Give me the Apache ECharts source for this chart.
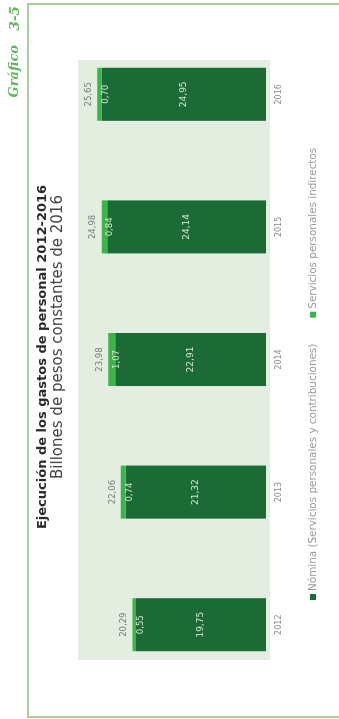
<!DOCTYPE html>
<html>
<head>
<meta charset="utf-8">
<script src="https://cdn.jsdelivr.net/npm/echarts@6/dist/echarts.min.js"></script>
<style>
  html, body { margin: 0; padding: 0; background: #ffffff; overflow: hidden; }
  /* the page is laid out landscape and turned a quarter turn */
  #chart {
    position: absolute; left: 0; top: 0;
    width: 719px; height: 339px;
    transform-origin: 0 0;
    transform: translate(0, 719px) rotate(-90deg);
  }
</style>
</head>
<body>
<div id="chart"></div>
<script>
// Billones de pesos constantes de 2016
const years = ['2012', '2013', '2014', '2015', '2016'];
const nomina = [19.75, 21.32, 22.91, 24.14, 24.95];
const indirectos = [0.55, 0.74, 1.07, 0.84, 0.70];
const totales = [20.29, 22.06, 23.98, 24.98, 25.65];

const fmt = v => v.toFixed(2).replace('.', ',');
const DARK = '#1c6b37';
const LIGHT = '#3db34c';
const LABEL_FONT = 'DejaVu Sans';

const chart = echarts.init(document.getElementById('chart'), null, { renderer: 'canvas' });

chart.setOption({
  backgroundColor: '#ffffff',
  animation: false,
  title: [
    {
      text: 'Ejecución de los gastos de personal 2012-2016',
      left: 357, top: 31, textAlign: 'center',
      textStyle: { fontFamily: 'DejaVu Sans', fontWeight: 'bold', fontSize: 13, color: '#2a2a2a' }
    },
    {
      text: 'Billones de pesos constantes de 2016',
      left: 377, top: 46, textAlign: 'center',
      textStyle: { fontFamily: 'DejaVu Sans', fontWeight: 'normal', fontSize: 15, color: '#444444' }
    }
  ],
  graphic: [
    {
      type: 'polyline', silent: true, z: 0,
      shape: { points: [[2, 339], [2, 28], [715, 28], [715, 339]] },
      style: { stroke: '#a6d29a', lineWidth: 2, fill: null }
    },
    {
      type: 'text', silent: true,
      x: 674, y: 15,
      style: {
        text: 'Gráfico', align: 'right', verticalAlign: 'middle',
        font: 'italic bold 13px "DejaVu Serif"', fill: '#5db85a'
      }
    },
    {
      type: 'text', silent: true,
      x: 713, y: 15,
      style: {
        text: '3-5', align: 'right', verticalAlign: 'middle',
        font: 'italic bold 13.5px "DejaVu Serif"', fill: '#5db85a'
      }
    },
    {
      type: 'rect', silent: true, z: -1,
      shape: { x: 59, y: 78, width: 600, height: 192 },
      style: { fill: '#e4eee0' }
    }
  ],
  legend: {
    left: 119, top: 308, padding: 0,
    itemWidth: 6, itemHeight: 6, itemGap: 26,
    icon: 'rect',
    textStyle: { fontFamily: LABEL_FONT, fontSize: 10.4, color: '#9a9a9a', padding: [0, 0, 0, -2] },
    data: ['Nómina (Servicios personales y contribuciones)', 'Servicios personales indirectos']
  },
  grid: { left: 28, width: 663, top: 68.6, height: 197.4 },
  xAxis: {
    type: 'category',
    data: years,
    axisLine: { show: false },
    axisTick: { show: false },
    axisLabel: { margin: 9, fontFamily: LABEL_FONT, fontSize: 8, color: '#8a8a8a' }
  },
  yAxis: {
    type: 'value', min: 0, max: 30,
    show: false, splitLine: { show: false }
  },
  series: [
    {
      name: 'Nómina (Servicios personales y contribuciones)',
      type: 'bar', stack: 'gasto', data: nomina,
      barWidth: '40%', barGap: '-100%',
      itemStyle: { color: DARK },
      label: {
        show: true, position: 'inside',
        fontFamily: LABEL_FONT, fontSize: 9, color: '#d4e6d4',
        formatter: p => fmt(p.value)
      }
    },
    {
      name: 'Servicios personales indirectos',
      type: 'bar', stack: 'gasto', data: indirectos,
      barWidth: '40%', barGap: '-100%',
      itemStyle: { color: LIGHT },
      label: {
        show: true, position: 'insideTop', distance: 4,
        fontFamily: LABEL_FONT, fontSize: 8.5, color: '#d4e6d4',
        formatter: p => fmt(p.value)
      }
    },
    {
      name: 'Total',
      type: 'bar', data: totales,
      barWidth: '40%', barGap: '-100%',
      silent: true, z: 1,
      itemStyle: { color: 'rgba(0,0,0,0)' },
      label: {
        show: true, position: 'top', distance: 4,
        fontFamily: LABEL_FONT, fontSize: 8.5, color: '#7a7a7a',
        formatter: p => fmt(p.value)
      }
    }
  ]
});
</script>
</body>
</html>
